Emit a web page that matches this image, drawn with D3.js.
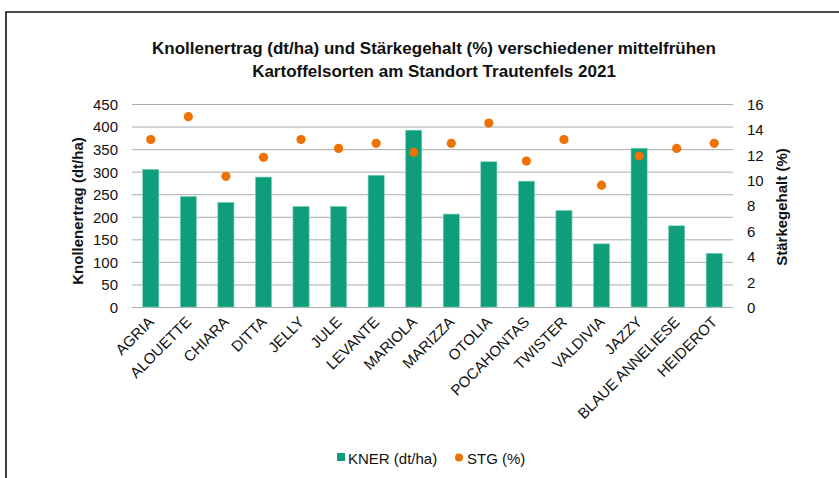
<!DOCTYPE html>
<html>
<head>
<meta charset="utf-8">
<script src="https://cdn.jsdelivr.net/npm/d3@7"></script>
<style>
  body { margin: 0; background: #fff; }
  text { font-family: "Liberation Sans", Arial, Helvetica, sans-serif; fill: #111; }
</style>
</head>
<body>
<svg id="chart" width="839" height="478"></svg>
<script>
const sorten = ['AGRIA', 'ALOUETTE', 'CHIARA', 'DITTA', 'JELLY', 'JULE', 'LEVANTE', 'MARIOLA',
  'MARIZZA', 'OTOLIA', 'POCAHONTAS', 'TWISTER', 'VALDIVIA', 'JAZZY', 'BLAUE ANNELIESE', 'HEIDEROT'];
const kner = [305, 245, 232, 288, 223, 223, 292, 392, 206, 322, 279, 214, 140, 352, 180, 119];
const stg = [13.2, 15.0, 10.3, 11.8, 13.2, 12.5, 12.9, 12.2, 12.9, 14.5, 11.5, 13.2, 9.6, 11.9, 12.5, 12.9];
const leftTicks = [0, 50, 100, 150, 200, 250, 300, 350, 400, 450];
const rightTicks = [0, 2, 4, 6, 8, 10, 12, 14, 16];

const svg = d3.select('#chart');
const green = '#0e9e7b';
const orange = '#ee7203';

// outer frame, runs off the right and bottom edge like the screenshot
svg.append('path')
  .attr('d', 'M6,480 L6,12 L841,12')
  .attr('fill', 'none')
  .attr('stroke', '#111')
  .attr('stroke-width', 1.6);

const plotL = 132, plotR = 733, plotT = 104, plotB = 307;

const x = d3.scaleBand().domain(sorten).range([plotL, plotR]).paddingInner(0.57).paddingOuter(0.285);
const yL = d3.scaleLinear().domain([0, 450]).range([plotB, plotT]);
const yR = d3.scaleLinear().domain([0, 16]).range([plotB, plotT]);

// grid lines
svg.append('g')
  .selectAll('line')
  .data(leftTicks)
  .enter()
  .append('line')
  .attr('x1', plotL)
  .attr('x2', plotR)
  .attr('y1', d => yL(d) + 0.5)
  .attr('y2', d => yL(d) + 0.5)
  .attr('stroke', '#acacac')
  .attr('stroke-width', 1);

// bars
svg.append('g')
  .selectAll('rect')
  .data(kner)
  .enter()
  .append('rect')
  .attr('x', (d, i) => x(sorten[i]))
  .attr('y', d => yL(d))
  .attr('width', x.bandwidth())
  .attr('height', d => plotB - yL(d))
  .attr('fill', green)
  .attr('stroke', '#7fd3bd')
  .attr('stroke-width', 0.6);

// dots
svg.append('g')
  .selectAll('circle')
  .data(stg)
  .enter()
  .append('circle')
  .attr('cx', (d, i) => x(sorten[i]) + x.bandwidth() / 2)
  .attr('cy', d => yR(d))
  .attr('r', 4.6)
  .attr('fill', orange);

// left axis
const axL = svg.append('g')
  .attr('transform', `translate(${plotL - 14},0)`)
  .call(d3.axisLeft(yL).tickValues(leftTicks).tickSize(0).tickPadding(0));
axL.select('.domain').remove();
axL.selectAll('text').style('font-size', '15px').attr('dy', '0.36em');

// right axis
const axR = svg.append('g')
  .attr('transform', `translate(${plotR + 14},0)`)
  .call(d3.axisRight(yR).tickValues(rightTicks).tickSize(0).tickPadding(0));
axR.select('.domain').remove();
axR.selectAll('text').style('font-size', '15px').attr('dy', '0.36em');

// x labels
svg.append('g')
  .selectAll('text')
  .data(sorten)
  .enter()
  .append('text')
  .attr('transform', d => `translate(${x(d) + x.bandwidth() / 2 + 4},${plotB + 16}) rotate(-45)`)
  .attr('text-anchor', 'end')
  .style('font-size', '15px')
  .text(d => d);

// axis titles
svg.append('text')
  .attr('transform', 'translate(83,211) rotate(-90)')
  .attr('text-anchor', 'middle')
  .style('font-size', '15px')
  .style('font-weight', 'bold')
  .text('Knollenertrag (dt/ha)');

svg.append('text')
  .attr('transform', 'translate(787,207) rotate(-90)')
  .attr('text-anchor', 'middle')
  .style('font-size', '15px')
  .style('font-weight', 'bold')
  .text('Stärkegehalt (%)');

// title
const title = svg.append('text')
  .attr('text-anchor', 'middle')
  .style('font-size', '17px')
  .style('font-weight', 'bold');
title.append('tspan').attr('x', 434).attr('y', 54)
  .text('Knollenertrag (dt/ha) und Stärkegehalt (%) verschiedener mittelfrühen');
title.append('tspan').attr('x', 434).attr('y', 77)
  .text('Kartoffelsorten am Standort Trautenfels 2021');

// legend
const legend = svg.append('g');
legend.append('rect')
  .attr('x', 337).attr('y', 453).attr('width', 8).attr('height', 8)
  .attr('fill', green);
legend.append('text')
  .attr('x', 348).attr('y', 464)
  .style('font-size', '15px')
  .text('KNER (dt/ha)');
legend.append('circle')
  .attr('cx', 459).attr('cy', 457.5).attr('r', 4)
  .attr('fill', orange);
legend.append('text')
  .attr('x', 467).attr('y', 464)
  .style('font-size', '15px')
  .text('STG (%)');
</script>
</body>
</html>
